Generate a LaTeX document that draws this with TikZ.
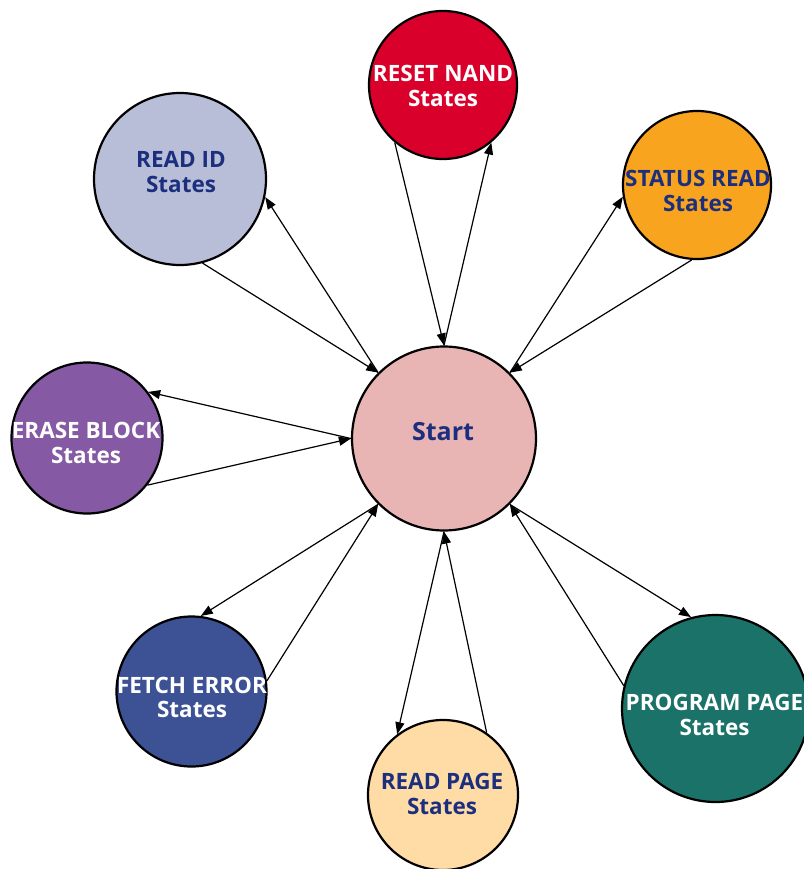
\documentclass[tikz,border=0pt]{standalone}
\usepackage{fontspec}
\newfontfamily\lbl{Open Sans}
\usetikzlibrary{arrows.meta}
\definecolor{navy}{RGB}{27,47,126}
\definecolor{cStart}{RGB}{232,180,180}
\definecolor{cReset}{RGB}{217,0,43}
\definecolor{cReadId}{RGB}{185,190,216}
\definecolor{cStatus}{RGB}{249,164,31}
\definecolor{cErase}{RGB}{133,89,163}
\definecolor{cFetch}{RGB}{61,81,149}
\definecolor{cReadPg}{RGB}{255,219,165}
\definecolor{cProg}{RGB}{26,114,104}
\begin{document}
\begin{tikzpicture}[x=1pt,y=-1pt,
  state/.style={circle, draw=black, line width=2.2pt, inner sep=0pt},
  caption/.style={align=center, inner sep=0pt,
    font=\lbl\bfseries\fontsize{22.5}{24.5}\selectfont},
  link/.style={-{Triangle[length=12pt,width=9pt]}, line width=1.2pt}]
\useasboundingbox (0,0) rectangle (803,869);

% state circles
\node[state, fill=cStart,  minimum size=184pt] (start) at (444,438.5) {};
\node[state, fill=cReset,  minimum size=148pt] (rst) at (443,85) {};
\node[state, fill=cReadId, minimum size=172pt] (rid) at (180,179) {};
\node[state, fill=cStatus, minimum size=148pt] (sts) at (697,185) {};
\node[state, fill=cErase,  minimum size=151pt] (ers) at (87,438) {};
\node[state, fill=cFetch,  minimum size=150pt] (fet) at (191.5,691.5) {};
\node[state, fill=cReadPg, minimum size=150pt] (rdp) at (443,795) {};
\node[state, fill=cProg,   minimum size=187pt] (prg) at (715.5,708.5) {};

% captions
\node[caption, text=navy, font=\lbl\bfseries\fontsize{25}{28}\selectfont] (start-t) at (443,432) {Start};
\node[caption, text=white] (rst-t) at (443,86) {RESET NAND\\States};
\node[caption, text=navy]  (rid-t) at (181,172) {READ ID\\States};
\node[caption, text=navy]  (sts-t) at (698,191) {STATUS READ\\States};
\node[caption, text=white] (ers-t) at (86,443) {ERASE BLOCK\\States};
\node[caption, text=white] (fet-t) at (192,697.5) {FETCH ERROR\\States};
\node[caption, text=navy]  (rdp-t) at (442,794) {READ PAGE\\States};
\node[caption, text=white] (prg-t) at (714.5,715) {PROGRAM PAGE\\States};

% transitions to and from Start
\draw[link] (rst.230) -- (start.90);
\draw[link] (start.90) -- (rst.310);
\draw[link] (rid.285) -- (start.135);
\draw[link] (start.135) -- (rid.348);
\draw[link] (sts.266) -- (start.45);
\draw[link] (start.45) -- (sts.189);
\draw[link] (ers.322) -- (start.180);
\draw[link] (start.180) -- (ers.37);
\draw[link] (fet.8) -- (start.225);
\draw[link] (start.225) -- (fet.83);
\draw[link] (rdp.55) -- (start.270);
\draw[link] (start.270) -- (rdp.127);
\draw[link] (prg.166) -- (start.315);
\draw[link] (start.315) -- (prg.105);
\end{tikzpicture}
\end{document}
